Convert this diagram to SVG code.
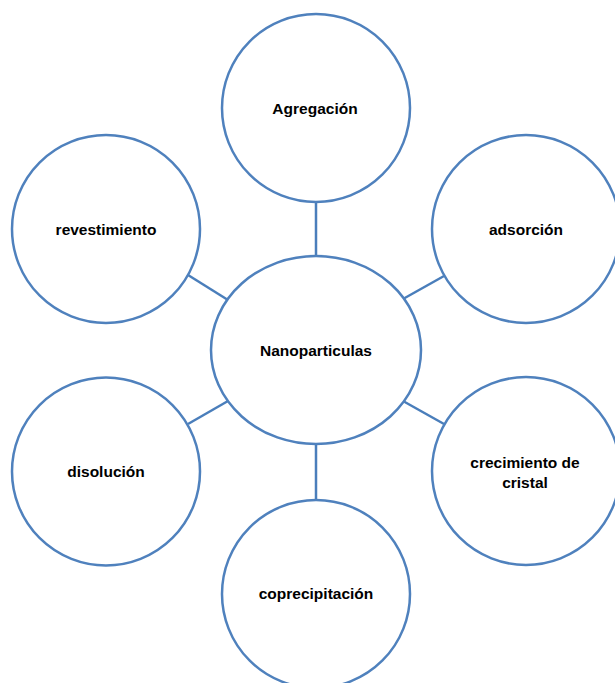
<svg xmlns="http://www.w3.org/2000/svg" width="615" height="683" viewBox="0 0 615 683">
<style>
.n{fill:#fff;stroke:#4f81bd;stroke-width:2.5}
.c line{stroke:#4a7ebb;stroke-width:2.5}
text{font-family:"Liberation Sans",Arial,sans-serif;font-weight:bold;font-size:15.5px;fill:#000;text-anchor:middle}
</style>
<rect width="615" height="683" fill="#fff"/>
<g id="connectors" class="c">
<line x1="316" y1="202" x2="316" y2="257"/>
<line x1="188" y1="275" x2="228" y2="300"/>
<line x1="444" y1="276" x2="403" y2="299"/>
<line x1="188" y1="424" x2="228" y2="401"/>
<line x1="444" y1="424" x2="403" y2="401"/>
<line x1="316" y1="444" x2="316" y2="500"/>
</g>
<g id="center"><ellipse class="n" cx="316" cy="350" rx="105" ry="94"/><text x="316" y="356">Nanoparticulas</text></g>
<g id="agregacion"><circle class="n" cx="316" cy="108" r="94"/><text x="315" y="113.5">Agregación</text></g>
<g id="revestimiento"><circle class="n" cx="106" cy="229" r="94"/><text x="106" y="235">revestimiento</text></g>
<g id="adsorcion"><circle class="n" cx="526" cy="229" r="94"/><text x="526" y="235">adsorción</text></g>
<g id="disolucion"><circle class="n" cx="106" cy="471.5" r="94"/><text x="106" y="477">disolución</text></g>
<g id="crecimiento"><circle class="n" cx="526" cy="471" r="94"/><text x="525" y="467.5">crecimiento de</text><text x="525" y="488">cristal</text></g>
<g id="coprecipitacion"><circle class="n" cx="316" cy="594" r="94"/><text x="316" y="598.5">coprecipitación</text></g>
</svg>
